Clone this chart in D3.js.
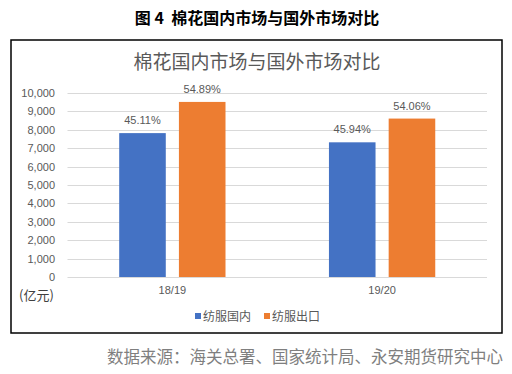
<!DOCTYPE html>
<html>
<head>
<meta charset="utf-8">
<script src="https://cdn.jsdelivr.net/npm/d3@7"></script>
<style>
  body { margin: 0; background: #fff; }
  text { font-family: "Liberation Sans", "Noto Sans CJK SC", sans-serif; }
  .cjk { font-family: "Noto Sans CJK SC", sans-serif; }
</style>
</head>
<body>
<script>
var categories = ["18/19", "19/20"];
var seriesNames = ["纺服国内", "纺服出口"];
var domestic = [7820, 7320];
var exportv = [9515, 8610];
var domesticPct = ["45.11%", "45.94%"];
var exportPct = ["54.89%", "54.06%"];
var yTicks = [0, 1000, 2000, 3000, 4000, 5000, 6000, 7000, 8000, 9000, 10000];
var colors = ["#4472C4", "#ED7D31"];

var width = 512, height = 374;

var svg = d3.select("body").append("svg")
  .attr("width", width)
  .attr("height", height);

// outer title
svg.append("text")
  .attr("class", "cjk")
  .attr("x", 257).attr("y", 24)
  .attr("text-anchor", "middle")
  .style("font-size", "16px")
  .style("font-weight", "bold")
  .style("fill", "#000")
  .style("white-space", "pre")
  .text("图 4  棉花国内市场与国外市场对比");

// chart frame
svg.append("rect")
  .attr("x", 11).attr("y", 40)
  .attr("width", 491).attr("height", 293)
  .attr("fill", "none")
  .attr("stroke", "#000")
  .attr("stroke-width", 1.5);

svg.append("text")
  .attr("class", "cjk")
  .attr("x", 257).attr("y", 69)
  .attr("text-anchor", "middle")
  .style("font-size", "19px")
  .style("fill", "#595959")
  .text("棉花国内市场与国外市场对比");

var x0 = d3.scaleBand().domain(categories).range([67.5, 487]).paddingInner(0).paddingOuter(0);
var x1 = d3.scaleBand().domain(seriesNames).range([51.7, 209.7 - 51.7]).paddingInner(0.22);
var y = d3.scaleLinear().domain([0, 10000]).range([277, 93]);

// gridlines
svg.append("g").selectAll("line").data(yTicks).enter().append("line")
  .attr("x1", 67.5).attr("x2", 487)
  .attr("y1", function(d){ return Math.round(y(d)) + 0.5; })
  .attr("y2", function(d){ return Math.round(y(d)) + 0.5; })
  .attr("stroke", "#d9d9d9")
  .attr("stroke-width", 1);

// y tick labels
svg.append("g").selectAll("text").data(yTicks).enter().append("text")
  .attr("x", 55)
  .attr("y", function(d){ return y(d) + 4; })
  .attr("text-anchor", "end")
  .style("font-size", "11px")
  .style("fill", "#595959")
  .text(function(d){ return d3.format(",")(d); });

svg.append("text")
  .attr("class", "cjk")
  .attr("x", 19).attr("y", 300)
  .style("font-size", "13px")
  .style("fill", "#404040")
  .text("(亿元)");

// x labels
svg.append("g").selectAll("text").data(categories).enter().append("text")
  .attr("x", function(d){ return x0(d) + x0.bandwidth() / 2; })
  .attr("y", 294)
  .attr("text-anchor", "middle")
  .style("font-size", "11px")
  .style("fill", "#595959")
  .text(function(d){ return d; });

var rows = categories.map(function(c, i){
  return [
    { cat: c, s: seriesNames[0], v: domestic[i], p: domesticPct[i], c: colors[0] },
    { cat: c, s: seriesNames[1], v: exportv[i], p: exportPct[i], c: colors[1] }
  ];
});
var flat = [].concat.apply([], rows);

svg.append("g").selectAll("rect").data(flat).enter().append("rect")
  .attr("x", function(d){ return x0(d.cat) + x1(d.s); })
  .attr("y", function(d){ return y(d.v); })
  .attr("width", x1.bandwidth())
  .attr("height", function(d){ return y(0) - y(d.v); })
  .attr("fill", function(d){ return d.c; });

svg.append("g").selectAll("text").data(flat).enter().append("text")
  .attr("x", function(d){ return x0(d.cat) + x1(d.s) + x1.bandwidth() / 2; })
  .attr("y", function(d){ return y(d.v) - 9; })
  .attr("text-anchor", "middle")
  .style("font-size", "11px")
  .style("fill", "#595959")
  .text(function(d){ return d.p; });

// legend
var legendX = [195, 264];
var lg = svg.append("g").selectAll("g").data(seriesNames).enter().append("g")
  .attr("transform", function(d, i){ return "translate(" + legendX[i] + ",316)"; });
lg.append("rect")
  .attr("x", 0).attr("y", -3)
  .attr("width", 6).attr("height", 6)
  .attr("fill", function(d, i){ return colors[i]; });
lg.append("text")
  .attr("class", "cjk")
  .attr("x", 8).attr("y", 4.5)
  .style("font-size", "12px")
  .style("fill", "#595959")
  .text(function(d){ return d; });

// source
svg.append("text")
  .attr("class", "cjk")
  .attr("x", 503).attr("y", 363)
  .attr("text-anchor", "end")
  .style("font-size", "16.5px")
  .style("fill", "#7f7f7f")
  .text("数据来源：海关总署、国家统计局、永安期货研究中心");
</script>
</body>
</html>
